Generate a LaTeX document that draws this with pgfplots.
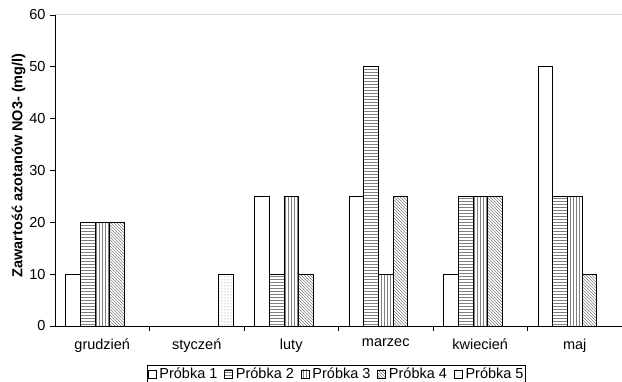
\documentclass[border=0pt]{standalone}
\usepackage{pgfplots}
\pgfplotsset{compat=1.18}
\usepackage{pgfplotstable}
\usepackage{fontspec}
\setmainfont{Liberation Sans}
\usetikzlibrary{patterns}

% nitrate content per month, samples 1-4 (month index 0..5)
\pgfplotstableread{
x p1 p2 p3 p4
0 10 20 20 20
2 25 10 25 10
3 25 50 10 25
4 10 25 25 25
5 50 25 25 10
}\nitrate

\newcommand{\chartfont}{\fontsize{14.5}{16}\selectfont}

\begin{document}
\begin{tikzpicture}
\useasboundingbox (0,0) rectangle (622pt,382pt);
\begin{axis}[
  at={(55pt,56pt)}, anchor=south west,
  scale only axis, width=567pt, height=311pt,
  /pgf/number format/assume math mode=true,
  ybar=0pt, bar width=14.7pt,
  xmin=-0.5, xmax=5.5, ymin=0, ymax=60,
  ytick={0,10,...,60},
  xtick={0,...,5},
  xticklabels={grudzień,styczeń,luty,marzec,kwiecień,maj},
  axis x line*=bottom, axis y line*=left,
  axis line style={black, line width=0.8pt},
  tick align=outside,
  major tick length=5pt,
  major x tick style={draw=none},
  y tick style={black, line width=0.8pt},
  extra x ticks={0.5,1.5,2.5,3.5,4.5},
  extra x tick labels={},
  extra x tick style={major x tick style={draw=black, line width=0.8pt}},
  tick label style={font=\chartfont},
  xticklabel style={yshift=-4pt},
  yticklabel style={xshift=-1pt},
  ylabel={\bfseries Zawartość azotanów NO3- (mg/l)},
  ylabel style={font=\fontsize{14.5}{16}\selectfont, yshift=-3pt, xshift=5pt},
  every axis plot/.append style={draw=black, line width=0.7pt},
  legend style={at={(0.496,-0.125)}, anchor=north, legend columns=5,
    draw=black, line width=0.7pt, inner sep=1pt, outer sep=0pt,
    font=\chartfont,
    nodes={inner xsep=1pt},
    /tikz/every odd column/.append style={column sep=2pt},
    /tikz/every even column/.append style={column sep=6pt}},
  legend image code/.code={\draw[#1, line width=0.5pt] (0pt,-4pt) rectangle (8pt,4pt);},
  after end axis/.code={\draw[gray!30, line width=1pt] (rel axis cs:0,1) -- (rel axis cs:1,1);},
]
\addplot[fill=white] table[x=x, y=p1] {\nitrate};
\addplot[pattern=horizontal lines, pattern color=gray] table[x=x, y=p2] {\nitrate};
\addplot[pattern=vertical lines, pattern color=gray] table[x=x, y=p3] {\nitrate};
\addplot[pattern=north west lines, pattern color=gray] table[x=x, y=p4] {\nitrate};
\addplot[pattern=dots, pattern color=gray] coordinates {(1,10)};
\legend{Próbka 1,Próbka 2,Próbka 3,Próbka 4,Próbka 5}
\end{axis}
\end{tikzpicture}
\end{document}
